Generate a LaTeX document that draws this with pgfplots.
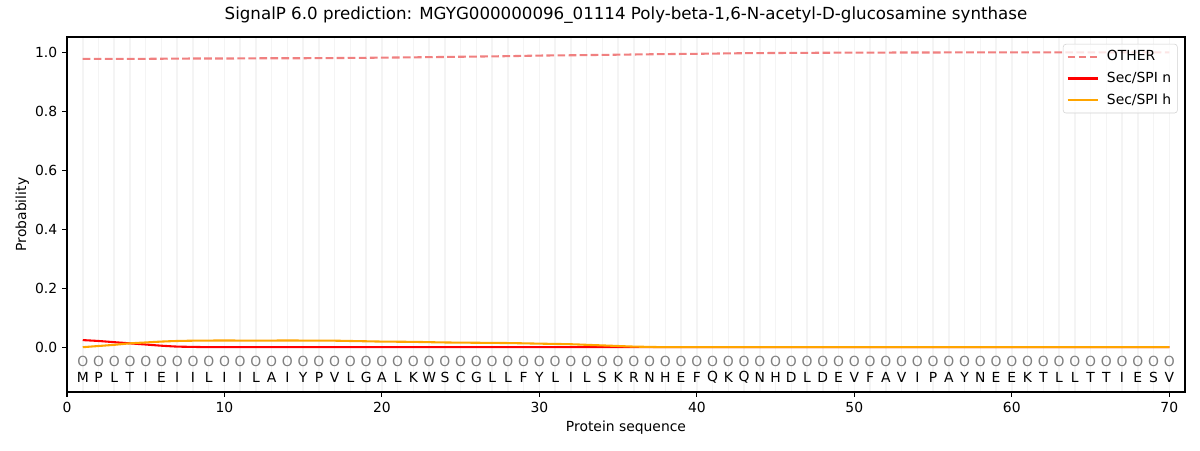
\documentclass[border=0pt]{standalone}
\usepackage{pgfplots}
\pgfplotsset{compat=1.18}
\usepackage{pgfplotstable}
\usepackage{fontspec}
\setmainfont{DejaVu Sans}
\definecolor{lcoral}{RGB}{240,128,128}
\definecolor{mplorange}{RGB}{255,165,0}
\definecolor{mplred}{RGB}{255,0,0}

\pgfplotstableread{
pos prob
1 0.978
3 0.978
5 0.978
8 0.979
10 0.979
13 0.980
15 0.980
18 0.981
20 0.982
22 0.983
25 0.985
28 0.987
30 0.989
32 0.990
35 0.992
38 0.994
40 0.995
43 0.997
46 0.998
50 0.999
55 0.9995
60 1.000
65 1.000
70 1.000
}\otherdata

\pgfplotstableread{
pos prob
1 0.024
2 0.021
3 0.017
4 0.013
5 0.009
6 0.005
7 0.002
8 0.001
9 0.000
10 0.000
20 0.000
30 0.000
40 0.000
50 0.000
60 0.000
70 0.000
}\ndata

\pgfplotstableread{
pos prob
1 0.000
2 0.004
3 0.008
4 0.013
5 0.016
6 0.019
7 0.021
8 0.022
9 0.0225
12 0.0225
15 0.0225
16 0.022
17 0.022
18 0.021
19 0.020
20 0.019
22 0.018
24 0.016
26 0.015
28 0.014
30 0.012
31 0.011
32 0.010
33 0.008
34 0.006
35 0.004
36 0.002
37 0.001
38 0.000
40 0.000
50 0.000
60 0.000
70 0.000
}\hdata

\pgfplotstableread{
pos aa cls
1 M O
2 P O
3 L O
4 T O
5 I O
6 E O
7 I O
8 I O
9 L O
10 I O
11 I O
12 L O
13 A O
14 I O
15 Y O
16 P O
17 V O
18 L O
19 G O
20 A O
21 L O
22 K O
23 W O
24 S O
25 C O
26 G O
27 L O
28 L O
29 F O
30 Y O
31 L O
32 I O
33 L O
34 S O
35 K O
36 R O
37 N O
38 H O
39 E O
40 F O
41 Q O
42 K O
43 Q O
44 N O
45 H O
46 D O
47 L O
48 D O
49 E O
50 V O
51 F O
52 A O
53 V O
54 I O
55 P O
56 A O
57 Y O
58 N O
59 E O
60 E O
61 K O
62 T O
63 L O
64 L O
65 T O
66 T O
67 I O
68 E O
69 S O
70 V O
}\seqdata

\begin{document}
\begin{tikzpicture}
\useasboundingbox (0,0) rectangle (864pt,324pt);
\begin{axis}[
  at={(48.24pt,41.76pt)}, anchor=south west,
  scale only axis, width=804.96pt, height=255.6pt,
  xmin=0, xmax=71, ymin=-0.152, ymax=1.052,
  xtick={0,10,...,70},
  minor xtick={1,...,70},
  ytick={0,0.2,...,1.0},
  yticklabel style={/pgf/number format/.cd, fixed, fixed zerofill, precision=1},
  /pgf/number format/assume math mode=true,
  xmajorgrids=true, xminorgrids=true,
  major grid style={draw=gray!9, line width=1.1pt},
  minor grid style={draw=gray!9, line width=1.1pt},
  minor tick length=0pt,
  tick align=outside, major tick length=3.5pt,
  tick style={line width=0.8pt, black},
  xtick pos=bottom, ytick pos=left,
  axis line style={line width=0.8pt},
  tick label style={font=\fontsize{10}{12}\selectfont},
  xlabel={Protein sequence}, ylabel={Probability},
  label style={font=\fontsize{10}{12}\selectfont},
  xlabel style={at={(0.5,0)}, anchor=center, yshift=-25.7pt},
  ylabel style={at={(0,0.5)}, anchor=center, xshift=0pt, yshift=32.2pt},
  title={SignalP 6.0 prediction: MGYG000000096\_01114 Poly-beta-1,6-N-acetyl-D-glucosamine synthase},
  title style={font=\fontsize{12}{14}\selectfont, at={(0.5,1)}, anchor=base, yshift=6.5pt},
  legend style={at={(1,1)}, anchor=north east, xshift=-5.3pt, yshift=-5pt,
    draw=gray!35, rounded corners=2pt, fill=white, fill opacity=0.8, text opacity=1,
    font=\fontsize{10}{12}\selectfont, row sep=2.8pt, inner xsep=2.5pt, inner ysep=2.5pt,
    /tikz/every odd column/.append style={column sep=4pt}},
  legend cell align=left,
  legend image code/.code={\draw[#1] (0pt,0pt) -- (21.5pt,0pt);},
]
\addplot[lcoral, line width=1.5pt, dash pattern=on 5.55pt off 2.4pt, smooth] table[x=pos, y=prob] {\otherdata};
\addlegendentry{OTHER}
\addplot[mplred, line width=1.5pt, smooth] table[x=pos, y=prob] {\ndata};
\addlegendentry{Sec/SPI n}
\addplot[mplorange, line width=1.5pt, smooth] table[x=pos, y=prob] {\hdata};
\addlegendentry{Sec/SPI h}
\addplot[forget plot, draw=none, nodes near coords, point meta=explicit symbolic,
  every node near coord/.append style={anchor=center, text=gray, font=\fontsize{10}{12}\selectfont, inner sep=0pt}]
  table[x=pos, y expr=-0.048, meta=cls] {\seqdata};
\addplot[forget plot, draw=none, nodes near coords, point meta=explicit symbolic,
  every node near coord/.append style={anchor=center, text=black, font=\fontsize{10}{12}\selectfont, inner sep=0pt}]
  table[x=pos, y expr=-0.102, meta=aa] {\seqdata};
\end{axis}
\end{tikzpicture}
\end{document}
